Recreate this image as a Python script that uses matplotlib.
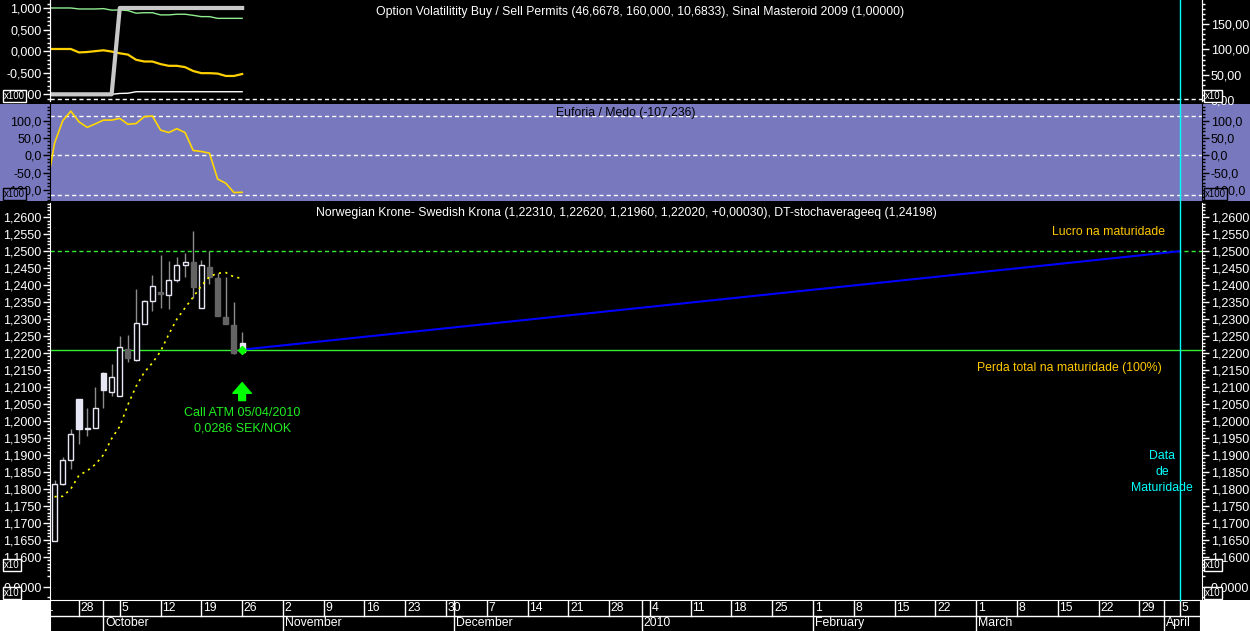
import numpy as np
import pandas as pd
import matplotlib
matplotlib.use('Agg')
import matplotlib.pyplot as plt
from matplotlib.patches import Rectangle
from matplotlib.lines import Line2D
from matplotlib.ticker import MultipleLocator, FuncFormatter
from matplotlib.transforms import blended_transform_factory

plt.rcParams['font.family'] = ['Liberation Sans', 'DejaVu Sans']

# --- dados ---
candle_dates = pd.bdate_range('2009-09-23', '2009-10-26')
opens = [1.1645, 1.1813, 1.1884, 1.2066, 1.1980, 1.1979, 1.2141, 1.2085, 1.2073, 1.2212, 1.2180, 1.2285,
         1.2353, 1.2380, 1.2370, 1.2415, 1.2459, 1.2469, 1.2332, 1.2454, 1.2422, 1.2305, 1.2283, 1.2231]
highs = [1.1825, 1.1894, 1.1975, 1.2066, 1.2038, 1.2100, 1.2143, 1.2169, 1.2249, 1.2254, 1.2389, 1.2357,
         1.2430, 1.2489, 1.2470, 1.2482, 1.2494, 1.2560, 1.2475, 1.2502, 1.2437, 1.2425, 1.2349, 1.2262]
lows = [1.1645, 1.1810, 1.1858, 1.1932, 1.1955, 1.1979, 1.2038, 1.2073, 1.2073, 1.2174, 1.2178, 1.2285,
        1.2323, 1.2334, 1.2329, 1.2408, 1.2425, 1.2362, 1.2332, 1.2403, 1.2308, 1.2285, 1.2197, 1.2196]
closes = [1.1813, 1.1886, 1.1961, 1.1975, 1.1976, 1.2038, 1.2090, 1.2129, 1.2218, 1.2185, 1.2288, 1.2353,
          1.2397, 1.2373, 1.2415, 1.2459, 1.2469, 1.2396, 1.2459, 1.2423, 1.2308, 1.2285, 1.2199, 1.2202]
stoch_avg = [1.1777, 1.1778, 1.1800, 1.1840, 1.1853, 1.1872, 1.1900, 1.1948, 1.1984, 1.2048, 1.2102, 1.2143,
             1.2171, 1.2205, 1.2255, 1.2300, 1.2333, 1.2365, 1.2398, 1.2425, 1.2435, 1.2437, 1.2424, 1.2420]

ind_dates = pd.bdate_range('2009-09-22', '2009-10-26')
permit_green = [1.0, 1.0, 1.0, 1.0, 0.977, 0.977, 0.977, 0.985, 0.95, 0.955, 0.94, 0.88, 0.89,
                0.89, 0.84, 0.84, 0.855, 0.855, 0.83, 0.80, 0.80, 0.76, 0.76, 0.76, 0.76]
permit_grey = [-1, -1, -1, -1, -1, -1, -1, -1, -1, 1, 1, 1, 1, 1, 1, 1, 1, 1, 1, 1, 1, 1, 1, 1, 1]
permit_yellow = [0.05, 0.05, 0.05, 0.05, -0.03, -0.02, 0.0, 0.02, -0.01, -0.05, -0.08, -0.20, -0.24,
                 -0.24, -0.30, -0.34, -0.34, -0.37, -0.46, -0.51, -0.51, -0.52, -0.575, -0.575, -0.53]
permit_white = [-1.0, -1.0, -1.0, -1.0, -1.0, -1.0, -1.0, -1.0, -1.0, -0.98, -0.975, -0.94, -0.94,
                -0.94, -0.94, -0.94, -0.94, -0.94, -0.94, -0.94, -0.94, -0.94, -0.94, -0.94, -0.94]
euforia = [-98, 35, 100, 128, 97, 81, 91, 102, 102, 107, 90, 92, 112, 114, 73, 66, 77, 66,
           14, 11, 6, -69, -81, -108, -107.2]

strike = 1.2210
target = 1.2500
proj_dates = pd.to_datetime(['2009-10-26', '2010-04-05'])
proj_values = [strike, target]
maturity = pd.Timestamp('2010-04-05')
month_labels = ['October', 'November', 'December', '2010', 'February', 'March', 'April']

# --- eixo de dias uteis ---
all_days = pd.bdate_range('2009-09-21', '2010-04-09')
pos = {d: i for i, d in enumerate(all_days)}
xc = np.array([pos[d] for d in candle_dates])
xi = np.array([pos[d] for d in ind_dates])
xp = np.array([pos[d] for d in proj_dates])
ppd = 8.156               # pixels por dia
x_lo = 1.444
x_hi = x_lo + 1152 / ppd

W, H = 1250.0, 631.0
fig = plt.figure(figsize=(12.5, 6.31), dpi=100, facecolor='white')
fig.add_artist(Rectangle((0, 1 - 600 / H), 1, 600 / H, transform=fig.transFigure,
                         facecolor='black', edgecolor='none', zorder=-5))
PURPLE = '#7878be'
fig.add_artist(Rectangle((0, 1 - 201 / H), 1, 97 / H, transform=fig.transFigure,
                         facecolor=PURPLE, edgecolor='none', zorder=-4))

L, AW = 50 / W, 1152 / W
ax_top = fig.add_axes([L, 1 - 101 / H, AW, 101 / H])
ax_mid = fig.add_axes([L, 1 - 201 / H, AW, 97 / H])
ax_main = fig.add_axes([L, 1 - 571 / H, AW, 368 / H])
ax_vol = fig.add_axes([L, 1 - 600 / H, AW, 29 / H])
ax_date = fig.add_axes([L, 0, 1150 / W, 31 / H])


def fmt(dec):
    def f(v, p):
        if abs(v) < 1e-9:
            v = 0.0
        return ('{:.%df}' % dec).format(v).replace('.', ',')
    return FuncFormatter(f)


def style(ax, color, major, minor, dec, left=True, right=True):
    ax.set_facecolor('none')
    ax.set_xlim(x_lo, x_hi)
    ax.yaxis.set_major_locator(MultipleLocator(major))
    ax.yaxis.set_minor_locator(MultipleLocator(minor))
    ax.yaxis.set_major_formatter(fmt(dec))
    ax.tick_params(axis='y', which='both', left=left, right=right, labelleft=left,
                   labelright=right, colors=color, direction='out', labelsize=9)
    ax.tick_params(axis='y', which='major', length=5, width=1, pad=1.2)
    ax.tick_params(axis='y', which='minor', length=2.4, width=1)
    ax.tick_params(axis='x', which='both', bottom=False, labelbottom=False)
    for s in ['top', 'bottom']:
        ax.spines[s].set_visible(False)
    for s in ['left', 'right']:
        ax.spines[s].set_color(color)


dash = (0, (3, 2.2))

# painel superior
style(ax_top, 'white', 0.5, 0.1, 3, right=False)
ax_top.set_ylim(-1.155, 1.185)
ax_top_r = ax_top.twinx()
style(ax_top_r, 'white', 50, 10, 2, left=False)
ax_top_r.set_ylim(-2, 198)
ax_top.plot(xi, permit_green, color='#90ee90', lw=1)
ax_top.plot(xi, permit_white, color='white', lw=1)
ax_top.plot(xi, permit_yellow, color='#ffd000', lw=1.6)
ax_top.plot(xi, permit_grey, color='#c8c8c8', lw=3)
ax_top.axhline(-1.1, color='white', lw=1, ls=dash)
ax_top.text(0.512, 0.88, 'Option Volatilitity Buy / Sell Permits (46,6678, 160,000, 10,6833), '
            'Sinal Masteroid 2009 (1,00000)', transform=ax_top.transAxes, ha='center', va='center',
            color='white', fontsize=8.8)

# painel euforia / medo
style(ax_mid, 'black', 50, 10, 1)
ax_mid.set_ylim(-132.5, 148.7)
for lvl in [115, 0, -115]:
    ax_mid.axhline(lvl, color='white', lw=1, ls=dash)
ax_mid.plot(xi, euforia, color='#ffd700', lw=1.2)
ax_mid.text(0.5, 0.905, 'Euforia / Medo (-107,236)', transform=ax_mid.transAxes, ha='center',
            va='center', color='black', fontsize=8.8)

# painel principal
style(ax_main, 'white', 0.005, 0.001, 4)
ax_main.set_ylim(1.1558, 1.2642)
ax_main.axhline(target, color='#33ee33', lw=1, ls=dash)
ax_main.axhline(strike, color='#33ee33', lw=1)
ax_main.plot(xp, proj_values, color='#0000ff', lw=1.5)

wick_c = '#8c8c8c'
light = '#e6e6f5'
dark = '#646464'
prev_close = np.r_[closes[0], closes[:-1]]
for i in range(len(xc)):
    o, h, l, c = opens[i], highs[i], lows[i], closes[i]
    ax_main.vlines(xc[i], l, h, color=wick_c, lw=1, zorder=3)
    if c >= o:
        fc, ec = 'black', light
    elif c >= prev_close[i]:
        fc, ec = light, light
    else:
        fc, ec = dark, dark
    ax_main.bar(xc[i], max(abs(c - o), 0.00015), bottom=min(o, c), width=0.62,
                facecolor=fc, edgecolor=ec, lw=1, zorder=4)
ax_main.plot(xc, stoch_avg, color='#ffff00', lw=1.2, dashes=(1.3, 2.6), zorder=5)
ax_main.plot(xc[-1], strike, marker='D', ms=4, color='#00ff00', zorder=6)

ax_main.annotate('', xy=(xc[-1], 1.2113), xytext=(xc[-1], 1.2060),
                 arrowprops=dict(arrowstyle='simple,head_length=0.55,head_width=0.95,tail_width=0.35',
                                 color='#00ff00', shrinkA=0, shrinkB=0, mutation_scale=14))
ax_main.text(xc[-1], 1.2040, 'Call ATM 05/04/2010\n0,0286 SEK/NOK', ha='center', va='top',
             color='#22ee22', fontsize=9, linespacing=1.3)
ax_main.text(0.5, 0.973, 'Norwegian Krone- Swedish Krona (1,22310, 1,22620, 1,21960, 1,22020, '
             '+0,00030), DT-stochaverageeq (1,24198)', transform=ax_main.transAxes, ha='center',
             va='center', color='white', fontsize=8.8)
gold = '#ffc800'
ax_main.text(0.968, 0.921, 'Lucro na maturidade', transform=ax_main.transAxes, ha='right',
             va='center', color=gold, fontsize=8.8)
ax_main.text(0.965, 0.552, 'Perda total na maturidade (100%)', transform=ax_main.transAxes,
             ha='right', va='center', color=gold, fontsize=8.8)
ax_main.text(0.9655, 0.269, 'Data\nde\nMaturidade', transform=ax_main.transAxes, ha='center',
             va='center', color='#00ffff', fontsize=8.8, linespacing=1.4)

# painel volume (vazio)
style(ax_vol, 'white', 20, 10, 4)
ax_vol.set_ylim(-13, 15)

# linha de maturidade
tr = blended_transform_factory(ax_main.transData, fig.transFigure)
fig.add_artist(Line2D([pos[maturity]] * 2, [31 / H, 1], transform=tr, color='#00ffff', lw=1, zorder=10))

# escalas x10 / x100
def badge(xpx, ypx, s, dark_bg=True):
    fig.text(xpx / W, 1 - ypx / H, s, ha='left', va='center', fontsize=7,
             color='white' if dark_bg else 'black', zorder=20,
             bbox=dict(boxstyle='square,pad=0.15', fc='black' if dark_bg else PURPLE,
                       ec='white' if dark_bg else 'black', lw=1))

badge(4, 96, 'x100')
badge(1205, 96, 'x10')
badge(4, 194, 'x100', False)
badge(1205, 194, 'x100', False)
badge(4, 565, 'x10')
badge(1205, 565, 'x10')
badge(4, 593, 'x10')
badge(1205, 593, 'x10')

# barra de datas
ax_date.set_facecolor('black')
ax_date.set_xlim(x_lo, x_lo + 1150 / ppd)
ax_date.set_ylim(0, 2)
ax_date.set_xticks([])
ax_date.set_yticks([])
for s in ax_date.spines.values():
    s.set_color('white')
ax_date.spines['bottom'].set_visible(False)
ax_date.axhline(1, color='white', lw=1)
mondays = [d for d in all_days if d.weekday() == 0]
month_starts = [d for k, d in enumerate(all_days) if k > 0 and d.month != all_days[k - 1].month]
for d in sorted(set(mondays) | set(month_starts)):
    x = pos[d]
    ax_date.plot([x, x], [1, 2], color='white', lw=1)
for d in mondays:
    ax_date.text(pos[d] + 0.22, 1.5, str(d.day), color='white', fontsize=8.8, ha='left',
                 va='center', clip_on=True)
for d, name in zip(month_starts, month_labels):
    x = pos[d]
    ax_date.plot([x, x], [0, 1], color='white', lw=1)
    ax_date.text(x + 0.22, 0.5, name, color='white', fontsize=8.8, ha='left', va='center',
                 clip_on=True)

fig.savefig('out.png', dpi=100, facecolor=fig.get_facecolor())
